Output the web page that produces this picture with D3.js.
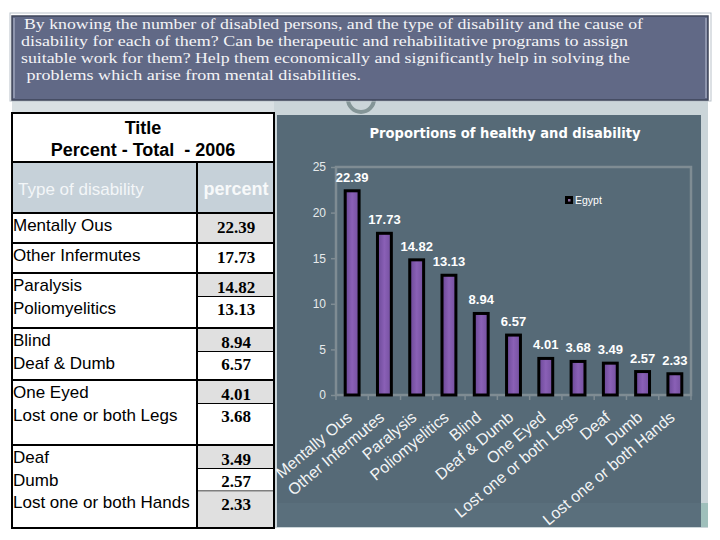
<!DOCTYPE html>
<html><head><meta charset="utf-8">
<script src="https://cdn.jsdelivr.net/npm/d3@7"></script>
<style>html,body{margin:0;padding:0;background:#fff}svg{display:block}</style>
</head><body>
<svg id="c" width="720" height="540"></svg>
<script>
// ---- data ----
const introLines = [
  "By knowing the number of disabled persons, and the type of disability and the cause of",
  "disability for each of them? Can be therapeutic and rehabilitative programs to assign",
  "suitable work for them? Help them economically and significantly help in solving the",
  " problems which arise from mental disabilities."
];
const categories = ["Mentally Ous","Other Infermutes","Paralysis","Poliomyelitics","Blind","Deaf & Dumb","One Eyed","Lost one or both Legs","Deaf","Dumb","Lost one or both Hands"];
const values = [22.39,17.73,14.82,13.13,8.94,6.57,4.01,3.68,3.49,2.57,2.33];
const yTicks = [0,5,10,15,20,25];
const tableGroups = [[0],[1],[2,3],[4,5],[6,7],[8,9,10]];
const tableTitle = ["Title","Percent - Total  - 2006"];
const tableHeader = ["Type of disability","percent"];
const chartTitle = "Proportions of healthy and disability";
const seriesName = "Egypt";

const svg = d3.select("#c");
const defs = svg.append("defs");
const g1 = defs.append("linearGradient").attr("id","bar").attr("x1","0").attr("x2","1").attr("y1","0").attr("y2","0");
g1.append("stop").attr("offset","0").attr("stop-color","#6a4896");
g1.append("stop").attr("offset","0.5").attr("stop-color","#8a60b6");
g1.append("stop").attr("offset","1").attr("stop-color","#74509f");

// ---- backgrounds ----
svg.append("rect").attr("x",12).attr("y",100).attr("width",696).attr("height",14).attr("fill","#d9e0e3");
svg.append("rect").attr("x",274).attr("y",100).attr("width",434).attr("height",428).attr("fill","#cbd5d9");
// connector ring
svg.append("circle").attr("cx",361).attr("cy",99).attr("r",13).attr("fill","none").attr("stroke","#849597").attr("stroke-width",4);

// ---- intro box ----
svg.append("rect").attr("x",10).attr("y",13).attr("width",701).attr("height",88).attr("fill","none").attr("stroke","#b9c1c9").attr("stroke-width",1);
svg.append("rect").attr("x",12).attr("y",16).attr("width",696).attr("height",84).attr("fill","#616986").attr("stroke","#3e4458").attr("stroke-width",1.5);
svg.append("line").attr("x1",14).attr("x2",14).attr("y1",18).attr("y2",98).attr("stroke","#8e95ad").attr("stroke-width",2);
svg.append("line").attr("x1",706).attr("x2",706).attr("y1",18).attr("y2",98).attr("stroke","#8e95ad").attr("stroke-width",2);
const introX = [24,21,21,22];
const introW = [619,607,609,339];
svg.selectAll("text.intro").data(introLines).join("text").attr("class","intro")
  .attr("x",(d,i)=>introX[i]).attr("y",(d,i)=>29+i*17)
  .attr("xml:space","preserve")
  .attr("textLength",(d,i)=>introW[i]).attr("lengthAdjust","spacingAndGlyphs")
  .style("font-family","'Liberation Serif','DejaVu Serif',serif").style("font-size","15px").attr("fill","#f4f4f6")
  .text(d=>d);

// ---- table ----
const T = {x:12, w:262, colX:197, top:113, titleB:162, headB:213, bottom:528};
const groupTops = [213,243,273,328,380,445,528];
const tg = svg.append("g");
tg.append("rect").attr("x",T.x).attr("y",T.top).attr("width",T.w).attr("height",T.bottom-T.top).attr("fill","#fff");
tg.append("rect").attr("x",T.x).attr("y",T.titleB).attr("width",T.w).attr("height",T.headB-T.titleB).attr("fill","#c6d1d9");
tg.selectAll("text.tt").data(tableTitle).join("text").attr("class","tt")
  .attr("x",T.x+T.w/2).attr("y",(d,i)=>134+i*22).attr("text-anchor","middle").attr("xml:space","preserve")
  .style("font-family","'Liberation Sans',Arial,sans-serif").style("font-weight","bold").style("font-size","18px").attr("fill","#000").text(d=>d);
tg.append("text").attr("x",18).attr("y",195).text(tableHeader[0])
  .style("font-family","'Liberation Sans',Arial,sans-serif").style("font-size","17px").attr("fill","#f3f6f8");
tg.append("text").attr("x",236).attr("y",195).attr("text-anchor","middle").text(tableHeader[1])
  .style("font-family","'Liberation Sans',Arial,sans-serif").style("font-weight","bold").style("font-size","18px").attr("fill","#f7f9fa");

tableGroups.forEach((grp,gi)=>{
  const top = groupTops[gi], bot = groupTops[gi+1];
  grp.forEach((idx,j)=>{
    const cy = top + 12.5 + j*22.5;
    const cTop = j===0 ? top : cy-11;
    const cBot = j===grp.length-1 ? bot : cy+11;
    if (idx%2===0) tg.append("rect").attr("x",T.colX).attr("y",cTop).attr("width",T.x+T.w-T.colX).attr("height",cBot-cTop).attr("fill","#e0e0e0");
    if (j<grp.length-1) tg.append("line").attr("x1",T.colX).attr("x2",T.x+T.w).attr("y1",cBot).attr("y2",cBot).attr("stroke","#000").attr("stroke-width",1.2);
    tg.append("text").attr("x",13).attr("y",cy).attr("dy","0.35em").text(categories[idx])
      .style("font-family","'Liberation Sans',Arial,sans-serif").style("font-size","17px").attr("fill","#000");
    tg.append("text").attr("x",236).attr("y",cy+1.5).attr("dy","0.35em").attr("text-anchor","middle").text(values[idx].toFixed(2))
      .style("font-family","'Liberation Serif','Times New Roman',serif").style("font-weight","bold").style("font-size","17px").attr("fill","#000");
  });
  tg.append("line").attr("x1",T.x).attr("x2",T.x+T.w).attr("y1",top).attr("y2",top).attr("stroke","#000").attr("stroke-width",2);
});
tg.append("line").attr("x1",T.x).attr("x2",T.x+T.w).attr("y1",T.titleB).attr("y2",T.titleB).attr("stroke","#000").attr("stroke-width",2);
tg.append("line").attr("x1",T.colX).attr("x2",T.colX).attr("y1",T.titleB).attr("y2",T.bottom).attr("stroke","#000").attr("stroke-width",2);
tg.append("rect").attr("x",T.x).attr("y",T.top).attr("width",T.w).attr("height",T.bottom-T.top).attr("fill","none").attr("stroke","#000").attr("stroke-width",2);

// ---- chart panel ----
svg.append("rect").attr("x",277).attr("y",115).attr("width",424).attr("height",412).attr("fill","#566a77");
svg.append("rect").attr("x",277).attr("y",503).attr("width",424).attr("height",24).attr("fill","#5a6f7c");
svg.append("rect").attr("x",701).attr("y",503).attr("width",7).attr("height",24).attr("fill","#9fbfbb");

svg.append("text").attr("x",505).attr("y",138).attr("text-anchor","middle").text(chartTitle)
  .style("font-family","'DejaVu Sans',Verdana,sans-serif").style("font-weight","bold").style("font-size","14px")
  .attr("textLength",271).attr("lengthAdjust","spacingAndGlyphs").attr("fill","#ffffff");

const P = {l:336, r:691, t:167, b:395};
const x = d3.scaleBand().domain(categories).range([P.l,P.r]).paddingInner(0.57).paddingOuter(0.285);
const y = d3.scaleLinear().domain([0,25]).range([P.b,P.t]);

// plot frame
svg.append("rect").attr("x",P.l).attr("y",P.t).attr("width",P.r-P.l).attr("height",P.b-P.t)
  .attr("fill","none").attr("stroke","#7f8c93").attr("stroke-width",2.5);

// y axis
const ya = svg.append("g").attr("transform",`translate(${P.l},0)`)
  .call(d3.axisLeft(y).tickValues(yTicks).tickSize(5).tickPadding(5).tickFormat(d3.format("d")));
ya.select(".domain").remove();
ya.selectAll(".tick line").attr("stroke","#7f8c93").attr("stroke-width",1.5);
ya.selectAll(".tick text").attr("fill","#e6eaec").style("font-family","'Liberation Sans',Arial,sans-serif").style("font-size","12px");

// x ticks at category boundaries
const step = x.step();
svg.selectAll("line.xt").data(d3.range(categories.length+1)).join("line").attr("class","xt")
  .attr("x1",i=>P.l+i*step).attr("x2",i=>P.l+i*step).attr("y1",P.b).attr("y2",P.b+5)
  .attr("stroke","#7f8c93").attr("stroke-width",1.5);

// bars
svg.selectAll("rect.bar").data(values).join("rect").attr("class","bar")
  .attr("x",(d,i)=>x(categories[i])).attr("y",d=>y(d))
  .attr("width",x.bandwidth()).attr("height",d=>y(0)-y(d))
  .attr("fill","url(#bar)").attr("stroke","#000").attr("stroke-width",3);

// value labels
svg.selectAll("text.vl").data(values).join("text").attr("class","vl")
  .attr("x",(d,i)=>x(categories[i])+x.bandwidth()/2).attr("y",d=>y(d)-9)
  .attr("text-anchor","middle").text(d=>d.toFixed(2))
  .style("font-family","'Liberation Sans',Arial,sans-serif").style("font-weight","bold").style("font-size","13px").attr("fill","#fff");

// category labels
svg.selectAll("text.cl").data(categories).join("text").attr("class","cl")
  .attr("transform",d=>`translate(${x(d)+x.bandwidth()/2+1},${P.b+24}) rotate(-40)`)
  .attr("text-anchor","end").text(d=>d)
  .style("font-family","'Liberation Sans',Arial,sans-serif").style("font-size","16px").attr("fill","#f2f4f5");

// legend
svg.append("rect").attr("x",565).attr("y",196).attr("width",8).attr("height",8).attr("fill","#000");
svg.append("rect").attr("x",568).attr("y",199).attr("width",2.5).attr("height",2.5).attr("fill","#8a6aa0");
svg.append("text").attr("x",575).attr("y",204).text(seriesName)
  .style("font-family","'Liberation Sans',Arial,sans-serif").style("font-size","10.5px").attr("fill","#fff");
</script>
</body></html>
